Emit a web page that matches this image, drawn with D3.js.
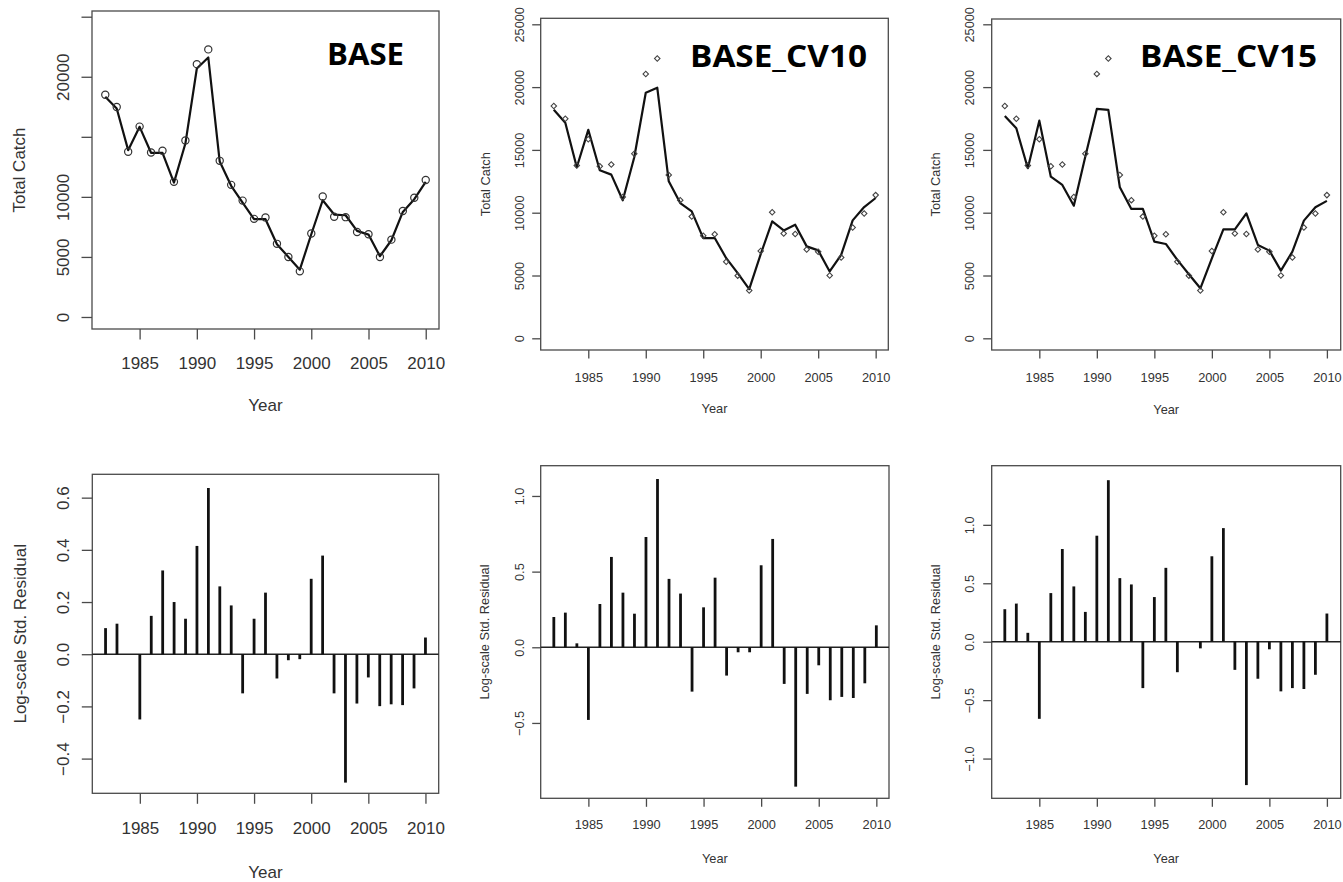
<!DOCTYPE html>
<html>
<head>
<meta charset="utf-8">
<script src="https://cdn.jsdelivr.net/npm/d3@7"></script>
<style>
  body { margin: 0; background: #fff; }
  svg { display: block; font-family: "Liberation Sans", Arial, sans-serif; }
</style>
</head>
<body>
<script>
// years on the x axis
const years = [1982, 1983, 1984, 1985, 1986, 1987, 1988, 1989, 1990, 1991,
  1992, 1993, 1994, 1995, 1996, 1997, 1998, 1999, 2000, 2001,
  2002, 2003, 2004, 2005, 2006, 2007, 2008, 2009, 2010];
const yearTicks = [1985, 1990, 1995, 2000, 2005, 2010];

// observed total catch (same in all three runs)
const observedCatch = [18500, 17480, 13760, 15850, 13700, 13840, 11250, 14700, 21050, 22280,
  13000, 11000, 9690, 8170, 8290, 6090, 4990, 3800, 6950, 10030,
  8340, 8310, 7070, 6890, 5000, 6440, 8820, 9930, 11400];

// predicted catch per run
const predBase = [18330, 17360, 13890, 15830, 13670, 13670, 11190, 14440, 20690, 21610,
  12940, 10920, 9530, 8140, 8140, 6060, 5000, 3940, 6890, 9720,
  8530, 8470, 7170, 6860, 5060, 6390, 8750, 9810, 11250];
const predCV10 = [18200, 17160, 13620, 16600, 13380, 13030, 10990, 14420, 19550, 19950,
  12500, 10770, 10110, 7980, 7980, 6380, 5190, 3910, 6700, 9310,
  8590, 9040, 7320, 7000, 5320, 6650, 9390, 10450, 11170];
const predCV15 = [17700, 16720, 13540, 17330, 12870, 12210, 10560, 14470, 18260, 18180,
  12020, 10300, 10300, 7700, 7510, 6240, 5100, 3980, 6370, 8680,
  8680, 9950, 7430, 6980, 5390, 6900, 9370, 10430, 10940];

// log-scale standardised residuals per run
const residBase = [0.10, 0.117, 0, -0.25, 0.147, 0.321, 0.20, 0.136, 0.415, 0.637,
  0.26, 0.187, -0.15, 0.136, 0.236, -0.093, -0.023, -0.019, 0.289, 0.378,
  -0.15, -0.492, -0.189, -0.089, -0.199, -0.192, -0.195, -0.131, 0.064];
const residCV10 = [0.20, 0.229, 0.026, -0.48, 0.286, 0.597, 0.361, 0.222, 0.729, 1.112,
  0.452, 0.355, -0.293, 0.264, 0.46, -0.187, -0.033, -0.033, 0.542, 0.716,
  -0.242, -0.921, -0.308, -0.119, -0.35, -0.328, -0.335, -0.238, 0.145];
const residCV15 = [0.278, 0.326, 0.076, -0.66, 0.416, 0.793, 0.473, 0.255, 0.907, 1.382,
  0.544, 0.49, -0.397, 0.382, 0.632, -0.261, 0, -0.057, 0.731, 0.972,
  -0.241, -1.227, -0.317, -0.065, -0.425, -0.397, -0.405, -0.283, 0.241];

// tick values / labels
const catchTicks = [0, 5000, 10000, 15000, 20000, 25000];
const catchLabelsBase = ["0", "5000", "10000", "", "20000", ""];
const catchLabels = ["0", "5000", "10000", "15000", "20000", "25000"];
const residTicksBase = [-0.4, -0.2, 0.0, 0.2, 0.4, 0.6];
const residTicksCV10 = [-0.5, 0.0, 0.5, 1.0];
const residTicksCV15 = [-1.0, -0.5, 0.0, 0.5, 1.0];

const runNames = ["BASE", "BASE_CV10", "BASE_CV15"];

const axisCol = "#4a4a4a";
const textCol = "#333";

const svg = d3.select("body").append("svg")
  .attr("width", 1343)
  .attr("height", 882);

// draws box, axes and labels; returns scales
function frame(p) {
  const x = d3.scaleLinear().domain(p.xDomain).range([p.left, p.right]);
  const y = d3.scaleLinear().domain(p.yDomain).range([p.bottom, p.top]);
  const g = svg.append("g");

  // x axis
  const xa = g.append("g")
    .attr("transform", `translate(0,${p.bottom})`)
    .call(d3.axisBottom(x).tickValues(yearTicks).tickSize(p.tick).tickFormat(d3.format("d")));
  xa.select(".domain").remove();
  xa.selectAll("line").attr("stroke", axisCol).attr("stroke-width", 1.3);
  xa.selectAll("text")
    .attr("y", p.xLabOff).attr("dy", "0.35em")
    .attr("fill", textCol).attr("font-size", p.fs).attr("font-family", "Liberation Sans, Arial");

  // y axis, R style labels parallel to axis
  const ya = g.append("g")
    .attr("transform", `translate(${p.left},0)`)
    .call(d3.axisLeft(y).tickValues(p.yTicks).tickSize(p.tick).tickFormat((d, i) => p.yLabels[i]));
  ya.select(".domain").remove();
  ya.selectAll("line").attr("stroke", axisCol).attr("stroke-width", 1.3);
  ya.selectAll("text")
    .attr("x", 0).attr("y", 0).attr("dy", "0.35em")
    .attr("text-anchor", "middle")
    .attr("transform", `translate(${-p.yLabOff},0) rotate(-90)`)
    .attr("fill", textCol).attr("font-size", p.fs).attr("font-family", "Liberation Sans, Arial");

  // box
  g.append("rect")
    .attr("x", p.left).attr("y", p.top)
    .attr("width", p.right - p.left).attr("height", p.bottom - p.top)
    .attr("fill", "none").attr("stroke", axisCol).attr("stroke-width", 1.3);

  // axis titles
  g.append("text")
    .attr("x", (p.left + p.right) / 2).attr("y", p.yearY).attr("dy", "0.35em")
    .attr("text-anchor", "middle").attr("fill", textCol).attr("font-size", p.fs)
    .text("Year");
  g.append("text")
    .attr("transform", `translate(${p.yTitleX},${(p.top + p.bottom) / 2}) rotate(-90)`)
    .attr("dy", "0.35em")
    .attr("text-anchor", "middle").attr("fill", textCol).attr("font-size", p.fs)
    .text(p.yTitle);

  return { g, x, y };
}

function catchPanel(p, pred, marker, name) {
  const { g, x, y } = frame(p);
  const line = d3.line().x((d, i) => x(years[i])).y(d => y(d));
  g.append("path")
    .datum(pred)
    .attr("d", line)
    .attr("fill", "none").attr("stroke", "#111").attr("stroke-width", 2.2)
    .attr("stroke-linejoin", "round");

  if (marker === "circle") {
    g.selectAll("circle.obs").data(observedCatch).join("circle")
      .attr("class", "obs")
      .attr("cx", (d, i) => x(years[i])).attr("cy", d => y(d))
      .attr("r", 3.6)
      .attr("fill", "none").attr("stroke", "#333").attr("stroke-width", 1.2);
  } else {
    const sym = d3.symbol().type(d3.symbolSquare).size(15);
    g.selectAll("path.obs").data(observedCatch).join("path")
      .attr("class", "obs")
      .attr("d", sym)
      .attr("transform", (d, i) => `translate(${x(years[i])},${y(d)}) rotate(45)`)
      .attr("fill", "none").attr("stroke", "#444").attr("stroke-width", 1.1);
  }

  g.append("text")
    .attr("x", p.nameX).attr("y", p.nameY)
    .attr("font-family", "Open Sans, sans-serif").attr("font-weight", "bold")
    .attr("font-size", 31).attr("fill", "#000")
    .attr("textLength", p.nameW).attr("lengthAdjust", "spacingAndGlyphs")
    .text(name);
}

function residPanel(p, resid) {
  const { g, x, y } = frame(p);
  g.append("line")
    .attr("x1", p.left).attr("x2", p.right)
    .attr("y1", y(0)).attr("y2", y(0))
    .attr("stroke", "#222").attr("stroke-width", 1.4);
  g.selectAll("line.bar").data(resid).join("line")
    .attr("class", "bar")
    .attr("x1", (d, i) => x(years[i])).attr("x2", (d, i) => x(years[i]))
    .attr("y1", y(0)).attr("y2", d => y(d))
    .attr("stroke", "#111").attr("stroke-width", 2.8);
}

// top row
catchPanel({
  left: 92, right: 439, top: 11, bottom: 329,
  xDomain: [1980.84, 2011.16], yDomain: [-1000, 25475],
  yTicks: catchTicks, yLabels: catchLabelsBase,
  fs: 17, tick: 10.5, xLabOff: 34, yLabOff: 28.5,
  yearY: 405, yTitleX: 19, yTitle: "Total Catch",
  nameX: 327, nameY: 65, nameW: 77
}, predBase, "circle", runNames[0]);

catchPanel({
  left: 540.7, right: 888.3, top: 18.3, bottom: 350,
  xDomain: [1980.86, 2011.1], yDomain: [-931, 25478],
  yTicks: catchTicks, yLabels: catchLabels,
  fs: 12.8, tick: 8.5, xLabOff: 28, yLabOff: 20.7,
  yearY: 409, yTitleX: 485.5, yTitle: "Total Catch",
  nameX: 690, nameY: 67, nameW: 177
}, predCV10, "diamond", runNames[1]);

catchPanel({
  left: 991.7, right: 1340.7, top: 19, bottom: 350,
  xDomain: [1980.86, 2011.2], yDomain: [-931, 25422],
  yTicks: catchTicks, yLabels: catchLabels,
  fs: 12.8, tick: 8.5, xLabOff: 28, yLabOff: 21.7,
  yearY: 410, yTitleX: 936, yTitle: "Total Catch",
  nameX: 1140, nameY: 67, nameW: 177
}, predCV15, "diamond", runNames[2]);

// bottom row
residPanel({
  left: 92.3, right: 438.7, top: 474.3, bottom: 793.3,
  xDomain: [1980.84, 2011.16], yDomain: [-0.533, 0.6895],
  yTicks: residTicksBase, yLabels: residTicksBase.map(d3.format(".1f")),
  fs: 17, tick: 10.5, xLabOff: 35, yLabOff: 29,
  yearY: 871.7, yTitleX: 20, yTitle: "Log-scale Std. Residual"
}, residBase);

residPanel({
  left: 540.7, right: 889, top: 465.7, bottom: 798.3,
  xDomain: [1980.86, 2011.1], yDomain: [-0.998, 1.2],
  yTicks: residTicksCV10, yLabels: residTicksCV10.map(d3.format(".1f")),
  fs: 12.8, tick: 8.5, xLabOff: 26.7, yLabOff: 20.7,
  yearY: 858.3, yTitleX: 485, yTitle: "Log-scale Std. Residual"
}, residCV10);

residPanel({
  left: 991.7, right: 1340.7, top: 465.7, bottom: 798.3,
  xDomain: [1980.86, 2011.2], yDomain: [-1.34, 1.506],
  yTicks: residTicksCV15, yLabels: residTicksCV15.map(d3.format(".1f")),
  fs: 12.8, tick: 8.5, xLabOff: 26.7, yLabOff: 21.7,
  yearY: 858.3, yTitleX: 936, yTitle: "Log-scale Std. Residual"
}, residCV15);
</script>
</body>
</html>
